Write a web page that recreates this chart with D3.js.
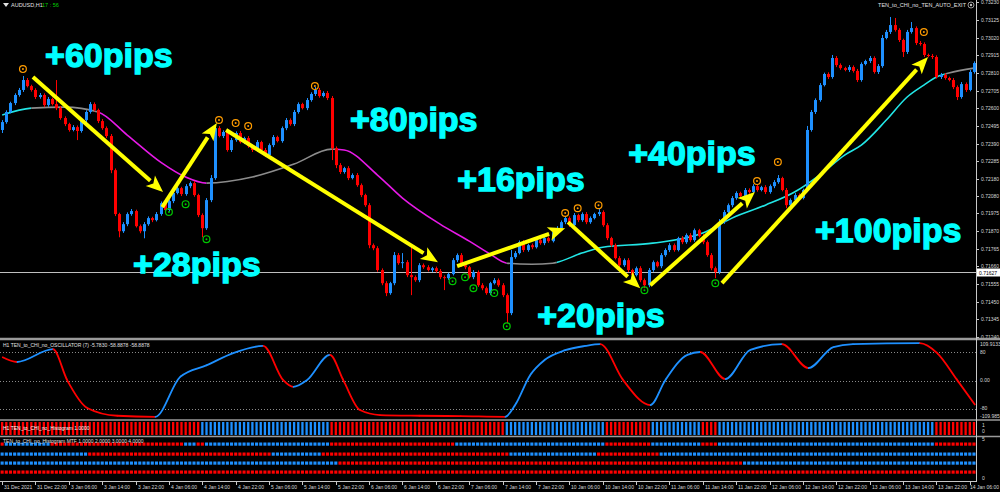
<!DOCTYPE html>
<html>
<head>
<meta charset="utf-8">
<script src="https://cdn.jsdelivr.net/npm/d3@7"></script>
<style>
body { margin: 0; background: #000; }
svg { display: block; }
text { font-family: "Liberation Sans", Arial, sans-serif; }
</style>
</head>
<body>
<div id="chart"></div>
<script>
// AUDUSD H1 closes, in points (price * 1e5); open = previous close
var firstOpen = 72471;
var closes = [
	72518, 72578, 72631, 72679, 72709, 72768, 72732, 72709, 72667, 72679,
	72619, 72655, 72625, 72601, 72542, 72506, 72471, 72488, 72465, 72530,
	72578, 72625, 72590, 72524, 72482, 72435, 72232, 71971, 71869, 71911,
	71971, 71989, 71899, 71869, 71911, 71947, 71935, 71971, 72036, 71995,
	72048, 72096, 72125, 72090, 72137, 72155, 72084, 71965, 71887, 72054,
	72185, 72482, 72435, 72459, 72352, 72411, 72453, 72399, 72423, 72375,
	72352, 72399, 72352, 72322, 72381, 72429, 72405, 72482, 72530, 72506,
	72578, 72625, 72601, 72649, 72685, 72709, 72673, 72691, 72661, 72363,
	72262, 72221, 72244, 72185, 72203, 72143, 72084, 72024, 71786, 71768,
	71638, 71560, 71501, 71560, 71727, 71679, 71685, 71608, 71596, 71578,
	71667, 71655, 71638, 71649, 71632, 71596, 71590, 71614, 71697, 71727,
	71667, 71655, 71596, 71626, 71548, 71530, 71501, 71560, 71578, 71548,
	71489, 71382, 71715, 71739, 71804, 71757, 71786, 71774, 71816, 71798,
	71828, 71810, 71864, 71887, 71923, 71947, 71905, 71965, 71935, 71971,
	71923, 71947, 71971, 71983, 71905, 71828, 71786, 71709, 71667, 71697,
	71638, 71608, 71649, 71578, 71548, 71638, 71685, 71661, 71727, 71757,
	71786, 71757, 71828, 71804, 71846, 71816, 71875, 71840, 71804, 71727,
	71649, 71626, 71923, 71983, 72024, 72066, 72096, 72078, 72114, 72102,
	72137, 72114, 72131, 72102, 72137, 72161, 72185, 72114, 72024, 72054,
	72084, 72066, 72114, 72471, 72578, 72649, 72738, 72804, 72786, 72899,
	72857, 72839, 72828, 72845, 72822, 72768, 72863, 72881, 72899, 72816,
	72851, 73018, 73054, 73095, 73066, 73006, 72935, 73054, 73077, 72988,
	72982, 72917, 72911, 72905, 72786, 72798, 72780, 72768, 72726, 72667,
	72744, 72709, 72816, 72869
];
// shadow above / below the body, in points
var wickHi = [
	12, 10, 8, 10, 12, 24, 12, 8, 10, 12,
	10, 12, 8, 143, 12, 10, 8, 12, 10, 12,
	10, 12, 10, 8, 12, 10, 12, 10, 8, 12,
	10, 12, 8, 10, 12, 10, 8, 12, 10, 12,
	10, 12, 10, 8, 12, 10, 12, 8, 10, 12,
	18, 24, 12, 10, 18, 12, 10, 12, 8, 12,
	10, 12, 8, 12, 10, 12, 8, 10, 12, 10,
	12, 10, 8, 12, 10, 18, 12, 10, 12, 12,
	10, 12, 8, 12, 10, 12, 10, 8, 12, 10,
	12, 10, 12, 8, 18, 12, 54, 12, 167, 10,
	12, 10, 12, 8, 10, 12, 10, 8, 12, 10,
	12, 10, 8, 12, 10, 12, 10, 8, 12, 10,
	12, 10, 42, 12, 10, 12, 8, 10, 12, 10,
	12, 10, 8, 12, 10, 12, 10, 12, 8, 10,
	12, 10, 8, 18, 10, 12, 8, 10, 12, 10,
	12, 8, 10, 12, 10, 12, 10, 8, 12, 10,
	12, 10, 8, 12, 10, 12, 10, 8, 12, 10,
	12, 10, 18, 12, 10, 12, 10, 8, 12, 10,
	12, 10, 8, 12, 10, 12, 18, 8, 12, 10,
	12, 10, 8, 24, 12, 10, 12, 8, 10, 18,
	12, 10, 8, 12, 10, 12, 10, 8, 12, 10,
	12, 18, 12, 48, 42, 10, 8, 12, 36, 10,
	12, 10, 8, 12, 10, 12, 10, 8, 12, 10,
	12, 10, 12, 10
];
var wickLo = [
	18, 10, 8, 12, 10, 12, 8, 10, 12, 10,
	12, 10, 8, 12, 10, 12, 10, 8, 54, 10,
	12, 10, 8, 12, 10, 12, 18, 12, 36, 10,
	12, 10, 8, 12, 42, 10, 12, 8, 10, 12,
	10, 12, 8, 12, 10, 12, 10, 12, 54, 10,
	12, 10, 8, 12, 10, 12, 10, 8, 12, 10,
	12, 10, 8, 12, 10, 12, 8, 10, 12, 10,
	12, 10, 8, 12, 10, 12, 10, 8, 12, 71,
	18, 12, 10, 12, 8, 10, 12, 10, 18, 12,
	10, 12, 18, 10, 12, 10, 30, 12, 107, 10,
	12, 10, 8, 12, 10, 12, 71, 10, 8, 12,
	10, 12, 8, 12, 10, 12, 10, 12, 8, 10,
	12, 60, 12, 10, 8, 12, 10, 12, 8, 10,
	12, 10, 8, 12, 10, 12, 10, 8, 12, 10,
	12, 10, 8, 12, 10, 12, 10, 8, 12, 10,
	12, 10, 8, 12, 18, 12, 10, 8, 12, 10,
	12, 10, 8, 12, 10, 12, 10, 8, 12, 10,
	12, 36, 12, 10, 8, 12, 10, 12, 8, 10,
	12, 10, 8, 12, 10, 12, 10, 8, 18, 10,
	12, 10, 8, 12, 10, 12, 10, 8, 12, 10,
	12, 10, 8, 12, 10, 12, 10, 8, 12, 10,
	12, 10, 8, 12, 10, 12, 30, 12, 10, 12,
	10, 12, 8, 12, 10, 12, 10, 8, 12, 18,
	10, 12, 8, 10
];
var currentPrice = 0.71627;

var priceTicks = [0.73230, 0.73125, 0.73020, 0.72915, 0.72810, 0.72705, 0.72600, 0.72495, 0.72390, 0.72285,
	0.72180, 0.72080, 0.71975, 0.71870, 0.71765, 0.71660, 0.71555, 0.71450, 0.71345, 0.71240];

var timeLabels = ["31 Dec 2021", "31 Dec 22:00", "3 Jan 06:00", "3 Jan 14:00", "3 Jan 22:00", "4 Jan 06:00",
	"4 Jan 14:00", "4 Jan 22:00", "5 Jan 06:00", "5 Jan 14:00", "5 Jan 22:00", "6 Jan 06:00", "6 Jan 14:00",
	"6 Jan 22:00", "7 Jan 06:00", "7 Jan 14:00", "7 Jan 22:00", "10 Jan 06:00", "10 Jan 14:00", "10 Jan 22:00",
	"11 Jan 06:00", "11 Jan 14:00", "11 Jan 22:00", "12 Jan 06:00", "12 Jan 14:00", "12 Jan 22:00",
	"13 Jan 06:00", "13 Jan 14:00", "13 Jan 22:00", "14 Jan 06:00"];

// moving average (bar index, points) and its trend colouring
var maIdx = [0, 7, 15, 23, 30, 38, 44, 49, 60, 70, 79, 82, 90, 96, 105, 112, 117, 121, 127, 132, 139, 144,
	156, 168, 175, 183, 190, 196, 202, 206, 212, 217, 221, 224, 227, 233];
var maVal = [72560, 72601, 72607, 72578, 72441, 72280, 72191, 72155, 72191, 72268, 72357, 72352, 72203, 72066,
	71911, 71810, 71733, 71679, 71673, 71679, 71739, 71774, 71798, 71858, 71947, 72024, 72102, 72203, 72322,
	72381, 72530, 72667, 72738, 72786, 72810, 72839];
var trendStart = [0, 7, 23, 49, 80, 121, 133, 226];
var trendEnd = [7, 23, 49, 80, 121, 133, 226, 233];
var trendState = ["up", "flat", "dn", "flat", "dn", "flat", "up", "flat"];

// signal dots
var sellIdx = [5, 52, 56, 59, 75, 135, 138, 143, 181, 186, 221];
var sellPrice = [72833, 72530, 72512, 72494, 72732, 71977, 72006, 72024, 72167, 72280, 73054];
var buyIdx = [40, 44, 49, 108, 111, 113, 118, 121, 154, 171];
var buyPrice = [71983, 72030, 71822, 71572, 71596, 71530, 71501, 71304, 71518, 71560];

// hand drawn trade arrows and their captions
var arrowFromIdx = [7.4, 38.4, 53.7, 109.1, 135.7, 155.4, 172.6];
var arrowFromPrice = [72786, 72012, 72471, 71661, 71923, 71548, 71560];
var arrowToIdx = [38.6, 51.5, 104.5, 135, 153, 180.5, 222];
var arrowToPrice = [72102, 72512, 71685, 71887, 71530, 72102, 72905];
var pipLabels = ["+60pips", "+28pips", "+80pips", "+16pips", "+20pips", "+40pips", "+100pips"];
var pipIdx = [10.3, 31.4, 83.4, 109.1, 128.3, 150.1, 194.9];
var pipPrice = [72845, 71602, 72465, 72108, 71298, 72262, 71804];

// oscillator turning points
var oscIdx = [0, 3.6, 12.2, 15.6, 20.4, 27.6, 36.7, 42.7, 49.1, 55.4, 62.6, 67.4, 69.8, 73.1, 78.6, 81.8,
	85.8, 90.6, 100, 110, 120.6, 123, 126.6, 130, 135, 139.8, 143.4, 148.9, 155.4, 159, 164.3, 167.4, 173.4,
	179.4, 187, 193.3, 199.3, 204, 220, 224.2, 229, 233.3];
var oscVal = [66, 52, 88, 1, -77, -99, -102, 10, 43, 77, 97, 1, -18, 1, 72, 1,
	-83, -97, -99, -100, -102, -69, 15, 57, 85, 97, 102, 1, -69, 1, 72, 80, 4,
	86, 102, 35, 94, 102, 105, 77, 1, -69];

// histogram states as runs of bars
var histRuns = [[48, "dn"], [31, "up"], [42, "dn"], [24, "up"], [11, "dn"], [12, "up"], [4, "dn"], [52, "up"], [10, "dn"]];
var mtf1Runs = [[1, "dn"], [11, "up"], [32, "dn"], [3, "up"], [2, "dn"], [30, "up"], [30, "dn"], [36, "up"],
	[11, "dn"], [12, "up"], [4, "dn"], [52, "up"], [10, "dn"]];
var mtf2Runs = [[21, "up"], [44, "dn"], [12, "up"], [45, "dn"], [21, "up"], [15, "dn"], [76, "up"]];
var mtf3Runs = [[81, "up"], [97, "dn"], [56, "up"]];
var mtf4Runs = [[234, "dn"]];

var width = 1000,
	height = 492,
	plotRight = 976;

var UP = "#1e90ff",
	DN = "#ff0000",
	AXIS = "#c8c8c8";

var svg = d3.select("#chart").append("svg")
	.attr("width", width)
	.attr("height", height)
	.style("background", "#000");

var N = closes.length;
var xScale = d3.scaleLinear().domain([-0.5, N - 0.5]).range([0, plotRight]);
var yScale = d3.scaleLinear().domain([0.71240, 0.73125]).range([337, 20]);
var oscScale = d3.scaleLinear().domain([-80, 80]).range([409, 352]);

var bars = closes.map(function(c, i) {
	var o = i === 0 ? firstOpen : closes[i - 1];
	return {
		i: i,
		o: o / 1e5,
		c: c / 1e5,
		h: (Math.max(o, c) + wickHi[i]) / 1e5,
		l: (Math.min(o, c) - wickLo[i]) / 1e5
	};
});

function runsToBars(runs) {
	var out = [], k = 0;
	runs.forEach(function(r) {
		for (var j = 0; j < r[0]; j++) {
			out.push({ i: k, s: r[1] });
			k++;
		}
	});
	return out;
}

// ---------- main price panel ----------
var main = svg.append("g");
main.append("defs").append("clipPath").attr("id", "mainClip")
	.append("rect").attr("x", 0).attr("y", 0).attr("width", plotRight).attr("height", 338);

var pg = main.append("g").attr("clip-path", "url(#mainClip)");

// current price line
pg.append("line")
	.attr("x1", 0).attr("x2", plotRight)
	.attr("y1", Math.round(yScale(currentPrice)) + 0.5).attr("y2", Math.round(yScale(currentPrice)) + 0.5)
	.attr("stroke", "#bfbfbf").attr("stroke-width", 1);

// moving average, coloured by trend
var maLine = d3.line()
	.x(function(d, i) { return xScale(maIdx[i]); })
	.y(function(d) { return yScale(d / 1e5); })
	.curve(d3.curveMonotoneX);
var trendColor = { up: "#22e6e6", dn: "#e619e6", flat: "#8c8c8c" };
var defs = svg.append("defs");
trendStart.forEach(function(s, k) {
	var id = "ma" + k;
	defs.append("clipPath").attr("id", id).append("rect")
		.attr("x", xScale(s)).attr("y", 0)
		.attr("width", xScale(trendEnd[k]) - xScale(s) + (k === trendStart.length - 1 ? 10 : 0))
		.attr("height", 340);
	pg.append("path")
		.attr("d", maLine(maVal))
		.attr("clip-path", "url(#" + id + ")")
		.attr("fill", "none")
		.attr("stroke", trendColor[trendState[k]])
		.attr("stroke-width", 1.6);
});

// candles
var candle = pg.selectAll(".candle").data(bars).enter().append("g").attr("class", "candle");
candle.append("line")
	.attr("x1", function(d) { return Math.round(xScale(d.i)) + 0.5; })
	.attr("x2", function(d) { return Math.round(xScale(d.i)) + 0.5; })
	.attr("y1", function(d) { return yScale(d.h); })
	.attr("y2", function(d) { return yScale(d.l); })
	.attr("stroke", function(d) { return d.c > d.o ? UP : DN; })
	.attr("stroke-width", 1);
candle.append("rect")
	.attr("x", function(d) { return Math.round(xScale(d.i)) - 1; })
	.attr("width", 3)
	.attr("y", function(d) { return yScale(Math.max(d.o, d.c)); })
	.attr("height", function(d) { return Math.max(1, Math.abs(yScale(d.o) - yScale(d.c))); })
	.attr("fill", function(d) { return d.c > d.o ? UP : DN; });

// signal dots
function drawSignals(idx, price, color) {
	var g = pg.append("g");
	idx.forEach(function(ix, k) {
		var cx = xScale(ix), cy = yScale(price[k] / 1e5);
		g.append("circle").attr("cx", cx).attr("cy", cy).attr("r", 3.4)
			.attr("fill", "none").attr("stroke", color).attr("stroke-width", 1.2);
		g.append("circle").attr("cx", cx).attr("cy", cy).attr("r", 1).attr("fill", color);
	});
}
drawSignals(sellIdx, sellPrice, "#ff9c00");
drawSignals(buyIdx, buyPrice, "#00c800");

// yellow arrows
arrowFromIdx.forEach(function(fi, k) {
	var x1 = xScale(fi), y1 = yScale(arrowFromPrice[k] / 1e5);
	var x2 = xScale(arrowToIdx[k]), y2 = yScale(arrowToPrice[k] / 1e5);
	var ang = Math.atan2(y2 - y1, x2 - x1);
	var headLen = 17, headW = 7;
	var bx = x2 - headLen * Math.cos(ang), by = y2 - headLen * Math.sin(ang);
	pg.append("line")
		.attr("x1", x1).attr("y1", y1).attr("x2", bx).attr("y2", by)
		.attr("stroke", "#ffff00").attr("stroke-width", 4);
	var px = -Math.sin(ang), py = Math.cos(ang);
	pg.append("path")
		.attr("d", "M" + x2 + "," + y2 +
			"L" + (bx + px * headW) + "," + (by + py * headW) +
			"L" + (bx + 4 * Math.cos(ang)) + "," + (by + 4 * Math.sin(ang)) +
			"L" + (bx - px * headW) + "," + (by - py * headW) + "Z")
		.attr("fill", "#ffff00");
});

// pip captions
pipLabels.forEach(function(t, k) {
	pg.append("text")
		.attr("x", xScale(pipIdx[k]))
		.attr("y", yScale(pipPrice[k] / 1e5))
		.attr("fill", "#00ffff")
		.attr("stroke", "#00ffff")
		.attr("stroke-width", 1.3)
		.style("font-size", "34px")
		.style("font-weight", "bold")
		.text(t);
});

// header
main.append("path").attr("d", "M3,3L9,3L6,7Z").attr("fill", "#e0e0e0");
main.append("text").attr("x", 11).attr("y", 7).attr("fill", "#e0e0e0").style("font-size", "5.5px").text("AUDUSD,H1");
main.append("text").attr("x", 42).attr("y", 7).attr("fill", "#00d200").style("font-size", "5.5px").text("17 : 56");
main.append("text").attr("x", 966).attr("y", 7).attr("text-anchor", "end").attr("fill", "#e0e0e0")
	.style("font-size", "5.5px").text("TEN_to_CHI_no_TEN_AUTO_EXIT");
main.append("circle").attr("cx", 971).attr("cy", 5).attr("r", 3).attr("fill", "none").attr("stroke", "#c0c0c0").attr("stroke-width", 0.8);
main.append("circle").attr("cx", 971).attr("cy", 5).attr("r", 1.2).attr("fill", "#c0c0c0");

// price axis
var yAxis = main.append("g");
priceTicks.forEach(function(p) {
	var y = Math.round(yScale(p)) + 0.5;
	yAxis.append("line").attr("x1", plotRight).attr("x2", plotRight + 3).attr("y1", y).attr("y2", y)
		.attr("stroke", AXIS);
	yAxis.append("text").attr("x", plotRight + 5).attr("y", y + 1.5).attr("fill", "#d8d8d8")
		.style("font-size", "5px").text(p.toFixed(5));
});
var cpy = Math.round(yScale(currentPrice));
yAxis.append("rect").attr("x", plotRight + 1).attr("y", cpy - 3.5).attr("width", 23).attr("height", 8).attr("fill", "#ffffff");
yAxis.append("text").attr("x", plotRight + 3).attr("y", cpy + 2.5).attr("fill", "#000").style("font-size", "5px").text(currentPrice.toFixed(5));

// ---------- oscillator panel ----------
var osc = svg.append("g");
[80, 0, -80].forEach(function(v) {
	osc.append("line").attr("x1", 0).attr("x2", plotRight)
		.attr("y1", Math.round(oscScale(v)) + 0.5).attr("y2", Math.round(oscScale(v)) + 0.5)
		.attr("stroke", "#8a8a8a").attr("stroke-dasharray", "1,2");
});
var oscLine = d3.line()
	.x(function(d, i) { return xScale(oscIdx[i]); })
	.y(function(d) { return oscScale(d); })
	.curve(d3.curveMonotoneX);
for (var k = 0; k < oscVal.length - 1; k++) {
	var id = "osc" + k;
	var x0 = xScale(oscIdx[k]), x1 = xScale(oscIdx[k + 1]);
	defs.append("clipPath").attr("id", id).append("rect")
		.attr("x", x0 - 0.3).attr("y", 340).attr("width", x1 - x0 + 0.6 + (k === oscVal.length - 2 ? 5 : 0)).attr("height", 80);
	osc.append("path")
		.attr("d", oscLine(oscVal))
		.attr("clip-path", "url(#" + id + ")")
		.attr("fill", "none")
		.attr("stroke", oscVal[k + 1] > oscVal[k] ? UP : DN)
		.attr("stroke-width", 1.8);
}
osc.append("text").attr("x", 3).attr("y", 347).attr("fill", "#e0e0e0").style("font-size", "5px")
	.text("H1 TEN_to_CHI_no_OSCILLATOR (7) -5.7830 -58.8878 -58.8878");
[["109.9133", 346], ["80", 354], ["0.00", 382], ["-80", 410], ["-109.985", 418]].forEach(function(d) {
	osc.append("text").attr("x", plotRight + 4).attr("y", d[1]).attr("fill", "#d8d8d8").style("font-size", "5px").text(d[0]);
});

// ---------- histogram panel ----------
var hist = svg.append("g");
hist.selectAll("rect").data(runsToBars(histRuns)).enter().append("rect")
	.attr("x", function(d) { return xScale(d.i) - 1.1; })
	.attr("width", 2.3)
	.attr("y", 422)
	.attr("height", 13)
	.attr("fill", function(d) { return d.s === "up" ? UP : DN; });
hist.append("text").attr("x", 3).attr("y", 430).attr("fill", "#ffffff").style("font-size", "5px")
	.text("H1 TEN_to_CHI_no_Histogram  1.0000");
hist.append("text").attr("x", plotRight + 6).attr("y", 427).attr("fill", "#d8d8d8").style("font-size", "5px").text("1");
hist.append("text").attr("x", plotRight + 6).attr("y", 433).attr("fill", "#d8d8d8").style("font-size", "5px").text("0");

// ---------- MTF panel ----------
var mtf = svg.append("g");
var rowY = [444, 454, 463, 472];
[mtf1Runs, mtf2Runs, mtf3Runs, mtf4Runs].forEach(function(runs, r) {
	mtf.append("g").selectAll("rect").data(runsToBars(runs)).enter().append("rect")
		.attr("x", function(d) { return xScale(d.i) - 1.5; })
		.attr("width", 3.1)
		.attr("y", rowY[r] - 1.5)
		.attr("height", 3.2)
		.attr("fill", function(d) { return d.s === "up" ? UP : DN; });
});
mtf.append("text").attr("x", 3).attr("y", 443).attr("fill", "#e0e0e0").style("font-size", "5px")
	.text("TEN_to_CHI_no_Histogram MTF 1.0000 2.0000 3.0000 4.0000");
mtf.append("text").attr("x", plotRight + 6).attr("y", 441).attr("fill", "#d8d8d8").style("font-size", "5px").text("5");
mtf.append("text").attr("x", plotRight + 6).attr("y", 480).attr("fill", "#d8d8d8").style("font-size", "5px").text("0");

// ---------- frames ----------
var frame = svg.append("g");
[339, 420, 436.5].forEach(function(y) {
	frame.append("line").attr("x1", 0).attr("x2", width).attr("y1", y).attr("y2", y)
		.attr("stroke", "#9a9a9a").attr("stroke-width", y === 339 ? 2.5 : 1.5);
});
frame.append("line").attr("x1", plotRight + 0.5).attr("x2", plotRight + 0.5).attr("y1", 0).attr("y2", 481)
	.attr("stroke", AXIS);
frame.append("line").attr("x1", 0).attr("x2", plotRight + 1).attr("y1", 481.5).attr("y2", 481.5).attr("stroke", AXIS);

// time axis; the last label is pulled in so it stays on the page
timeLabels.forEach(function(t, k) {
	var x = Math.round(xScale(k * 8)) + 0.5;
	frame.append("line").attr("x1", x).attr("x2", x).attr("y1", 481).attr("y2", 485).attr("stroke", AXIS);
	var lbl = frame.append("text").attr("x", x + 1.5).attr("y", 489).attr("fill", "#d8d8d8")
		.style("font-size", "5px").text(t);
	var w = lbl.node().getComputedTextLength();
	if (x + 1.5 + w > width - 1) lbl.attr("x", width - 1 - w);
});
</script>
</body>
</html>
